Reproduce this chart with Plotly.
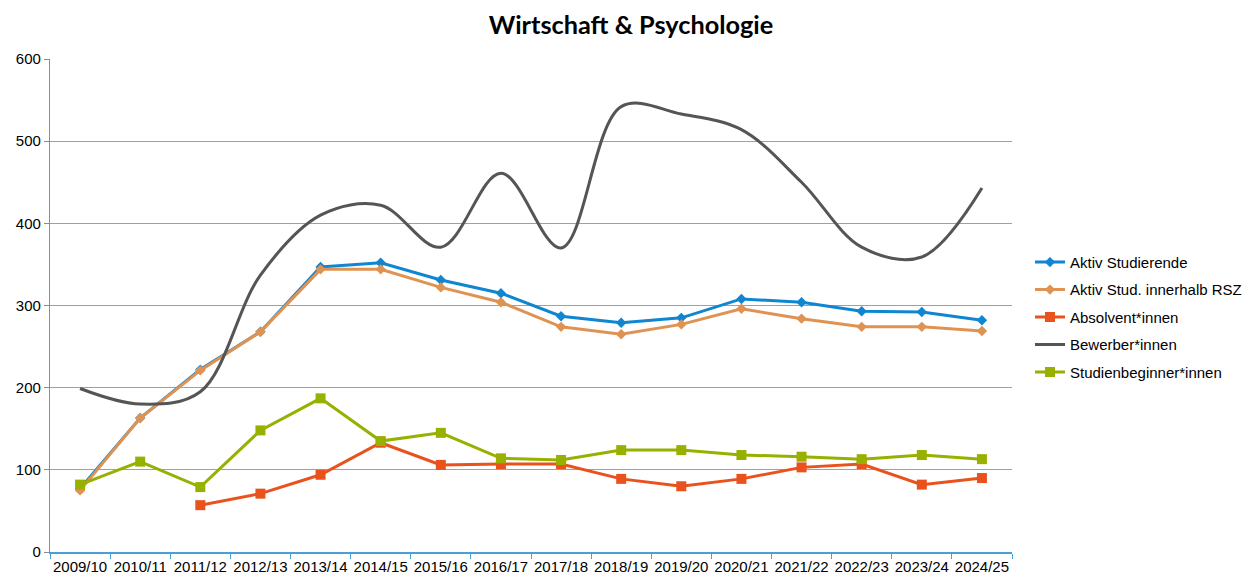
import plotly.graph_objects as go

categories = ["2009/10", "2010/11", "2011/12", "2012/13", "2013/14", "2014/15", "2015/16", "2016/17",
              "2017/18", "2018/19", "2019/20", "2020/21", "2021/22", "2022/23", "2023/24", "2024/25"]

aktiv_studierende = [77, 163, 222, 268, 347, 352, 331, 315, 287, 279, 285, 308, 304, 293, 292, 282]
aktiv_rsz = [75, 163, 221, 268, 344, 344, 322, 304, 274, 265, 277, 296, 284, 274, 274, 269]
absolventen = [None, None, 57, 71, 94, 133, 106, 107, 107, 89, 80, 89, 103, 107, 82, 90]
bewerber = [199, 180, 195, 337, 410, 422, 371, 461, 370, 542, 533, 514, 450, 371, 359, 443]
beginner = [82, 110, 79, 148, 187, 135, 145, 114, 112, 124, 124, 118, 116, 113, 118, 113]

series = [
    ("Aktiv Studierende", aktiv_studierende, "#0f86cf", "diamond", 8, "linear"),
    ("Aktiv Stud. innerhalb RSZ", aktiv_rsz, "#df9352", "diamond", 8, "linear"),
    ("Absolvent*innen", absolventen, "#e9521c", "square", 10, "linear"),
    ("Bewerber*innen", bewerber, "#555555", None, 0, "spline"),
    ("Studienbeginner*innen", beginner, "#98b000", "square", 10, "linear"),
]

fig = go.Figure()
for i, (name, vals, color, sym, size, shape) in enumerate(series):
    mode = "lines+markers" if sym else "lines"
    kw = dict(marker=dict(symbol=sym, size=size, color=color)) if sym else {}
    fig.add_trace(go.Scatter(
        x=categories, y=vals, name=name, mode=mode,
        line=dict(color=color, width=3, shape=shape, smoothing=1.0),
        legendgroup=f"g{i}", connectgaps=False, **kw))

fig.update_layout(
    width=1255, height=581,
    paper_bgcolor="white", plot_bgcolor="white",
    margin=dict(l=42, r=251, t=51, b=37),
    title=dict(text="<b>Wirtschaft &amp; Psychologie</b>", x=0.4964, xanchor="center",
               y=0.971, yanchor="middle", font=dict(family="Lato", size=25.3, color="black")),
    font=dict(family="Liberation Sans, Arial", size=15, color="black"),
    legend=dict(x=1.0187, y=0.621, xanchor="left", yanchor="top",
                font=dict(size=15, color="black"), tracegroupgap=5,
                traceorder="grouped", itemwidth=30),
    showlegend=True,
)
fig.update_xaxes(type="category", showgrid=False, showline=True, linecolor="#4a9fd8", linewidth=1.5,
                 ticks="outside", tickson="boundaries", ticklen=5, tickcolor="#4a9fd8",
                 tickfont=dict(size=15), tickangle=0, range=[-0.5, 15.5], automargin=False)
fig.update_yaxes(range=[0, 600], dtick=100, showgrid=True, gridcolor="#a0a0a0", gridwidth=1.3,
                 showline=True, linecolor="#8c8c8c", linewidth=1.3, ticks="outside", ticklen=5,
                 tickcolor="#8c8c8c", zeroline=False, tickfont=dict(size=15), automargin=False)

fig.write_html("out.html")
